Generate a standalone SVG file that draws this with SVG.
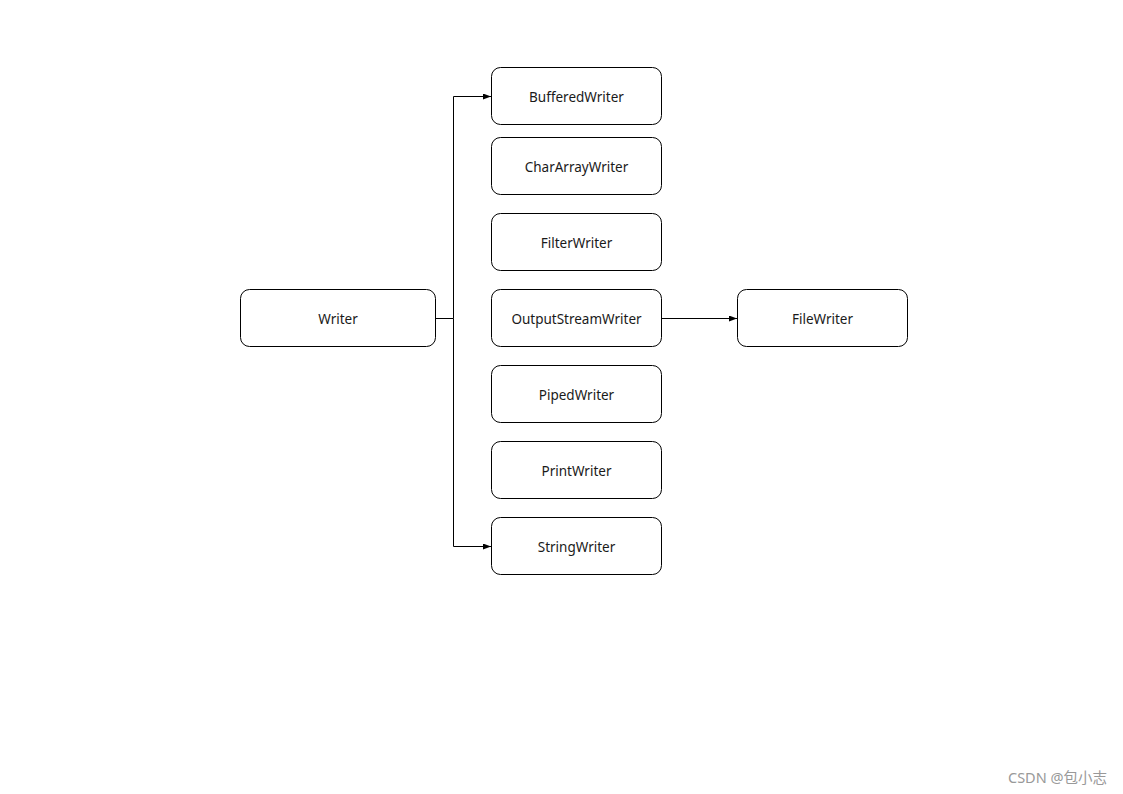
<svg xmlns="http://www.w3.org/2000/svg" width="1123" height="794" viewBox="0 0 1123 794">
<style>
.box{fill:#fff;stroke:#000;stroke-width:1}
.lbl{font-family:"Noto Sans","Open Sans",sans-serif;font-size:13.5px;fill:#1a1a1a;text-anchor:middle;dominant-baseline:central}
.edge{fill:none;stroke:#000;stroke-width:1}
.wm{font-family:"Noto Sans","Noto Sans CJK SC",sans-serif;font-size:14.5px;fill:#999}
</style>
<defs>
<marker id="arr" viewBox="0 0 8 6" refX="8" refY="3" markerWidth="8" markerHeight="6" markerUnits="userSpaceOnUse" orient="auto">
<path d="M0,0 L8,3 L0,6 Z" fill="#000"/>
</marker>
</defs>
<rect width="1123" height="794" fill="#fff"/>
<g id="connectors">
<path class="edge" d="M435.5,318.5 H453.5"/>
<path class="edge" d="M453.5,318.5 V96.5 H491" marker-end="url(#arr)"/>
<path class="edge" d="M453.5,318.5 V546.5 H491" marker-end="url(#arr)"/>
<path class="edge" d="M661.5,318.5 H737" marker-end="url(#arr)"/>
</g>
<g id="Writer"><rect class="box" x="240.5" y="289.5" width="195" height="57" rx="9"/><text class="lbl" x="338" y="319">Writer</text></g>
<g id="BufferedWriter"><rect class="box" x="491.5" y="67.5" width="170" height="57" rx="9"/><text class="lbl" x="576.5" y="97">BufferedWriter</text></g>
<g id="CharArrayWriter"><rect class="box" x="491.5" y="137.5" width="170" height="57" rx="9"/><text class="lbl" x="576.5" y="167">CharArrayWriter</text></g>
<g id="FilterWriter"><rect class="box" x="491.5" y="213.5" width="170" height="57" rx="9"/><text class="lbl" x="576.5" y="243">FilterWriter</text></g>
<g id="OutputStreamWriter"><rect class="box" x="491.5" y="289.5" width="170" height="57" rx="9"/><text class="lbl" x="576.5" y="319">OutputStreamWriter</text></g>
<g id="PipedWriter"><rect class="box" x="491.5" y="365.5" width="170" height="57" rx="9"/><text class="lbl" x="576.5" y="395">PipedWriter</text></g>
<g id="PrintWriter"><rect class="box" x="491.5" y="441.5" width="170" height="57" rx="9"/><text class="lbl" x="576.5" y="471">PrintWriter</text></g>
<g id="StringWriter"><rect class="box" x="491.5" y="517.5" width="170" height="57" rx="9"/><text class="lbl" x="576.5" y="547">StringWriter</text></g>
<g id="FileWriter"><rect class="box" x="737.5" y="289.5" width="170" height="57" rx="9"/><text class="lbl" x="822.5" y="319">FileWriter</text></g>
<text class="wm" x="1008" y="783">CSDN @包小志</text>
</svg>
